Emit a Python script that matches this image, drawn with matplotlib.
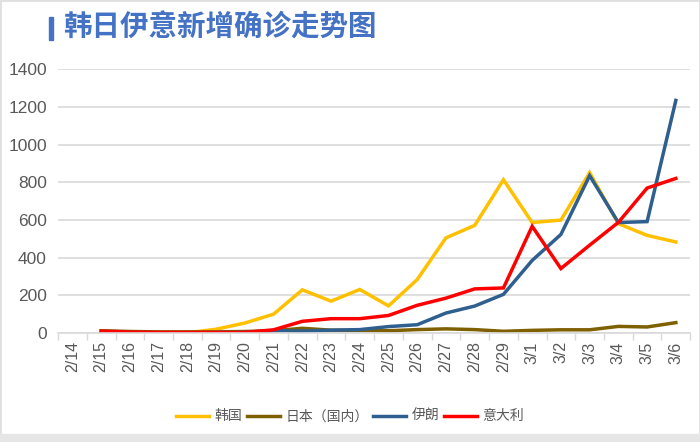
import numpy as np
import matplotlib
matplotlib.use("Agg")
import matplotlib.pyplot as plt
from matplotlib.patches import Rectangle

plt.rcParams['font.family'] = ['Liberation Sans', 'Noto Sans CJK SC', 'DejaVu Sans']

dates = ["2/14", "2/15", "2/16", "2/17", "2/18", "2/19", "2/20", "2/21", "2/22", "2/23", "2/24",
         "2/25", "2/26", "2/27", "2/28", "2/29", "3/1", "3/2", "3/3", "3/4", "3/5", "3/6"]
nan = np.nan
korea = [nan, 0, 1, 1, 1, 20, 53, 100, 229, 169, 231, 144, 284, 505, 571, 813, 586, 599, 851, 580, 518, 483]
japan = [nan, 12, 8, 6, 6, 6, 8, 12, 25, 15, 14, 12, 18, 22, 18, 9, 14, 17, 17, 35, 32, 55]
iran = [nan, 0, 0, 0, 0, 2, 3, 13, 10, 15, 18, 34, 44, 106, 143, 205, 385, 523, 835, 586, 591, 1234]
italy = [nan, 10, 5, 3, 3, 3, 3, 17, 62, 76, 76, 93, 147, 185, 234, 239, 566, 342, 466, 587, 769, 820]

series = [
    ("韩国", korea, "#ffc000"),
    ("日本（国内）", japan, "#7f6000"),
    ("伊朗", iran, "#2e5f8f"),
    ("意大利", italy, "#ff0000"),
]

fig = plt.figure(figsize=(7, 4.42), dpi=100)
ax = fig.add_axes([0.083, 0.2466, 0.903, 0.597])

x = np.arange(len(dates))
for name, vals, color in series:
    ax.plot(x, vals, color=color, lw=2.5, label=name, solid_joinstyle="miter")

ax.set_xlim(-0.5, len(dates) - 0.5)
ax.set_ylim(0, 1400)
ax.set_yticks(range(0, 1401, 200))
ax.yaxis.grid(True, color="#d9d9d9", lw=1.2)
ax.set_axisbelow(True)

ax.set_xticks(x)
ax.set_xticklabels(dates, rotation=90)
ax.set_xticks(np.arange(-0.5, len(dates)), minor=True)
ax.tick_params(axis="x", which="major", length=0, pad=6, labelsize=11.5, labelcolor="#595959")
ax.tick_params(axis="x", which="minor", length=5, color="#d9d9d9", width=1)
ax.tick_params(axis="y", length=0, pad=8, labelsize=12.5, labelcolor="#595959")

for s in ["top", "right", "left"]:
    ax.spines[s].set_visible(False)
ax.spines["bottom"].set_color("#d9d9d9")
ax.spines["bottom"].set_linewidth(1.2)

fig.legend(loc="center", bbox_to_anchor=(0.5, 0.058), ncol=4, frameon=False,
           fontsize=10, labelcolor="#595959", handlelength=2.4, handletextpad=0.4,
           columnspacing=0.3)

# title with bar
fig.patches.append(Rectangle((49 / 700, 1 - 40 / 442), 3.5 / 700, 23 / 442,
                             transform=fig.transFigure, color="#4472c4"))
fig.text(63 / 700, 1 - 28 / 442, "韩日伊意新增确诊走势图", fontsize=20.5, fontweight="bold",
         color="#4472c4", va="center", ha="left", family=["Noto Sans CJK SC"])

# frame
fig.patches.append(Rectangle((0, 0), 1, 1, transform=fig.transFigure, fill=False,
                             edgecolor="#e0e0e0", lw=2))
fig.patches.append(Rectangle((0, 0), 1, 8 / 442, transform=fig.transFigure,
                             color="#e6e6e6"))

fig.savefig("out.png", dpi=100)
